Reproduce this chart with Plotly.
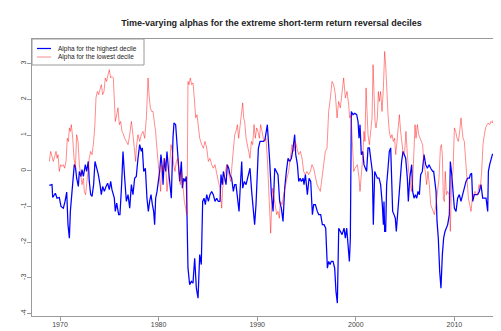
import plotly.graph_objects as go

# ---------------- data (decimal years, alpha values) ----------------
blue_dates = [
    1968.92, 1969.19, 1969.26, 1969.53, 1969.70, 1969.93, 1970.10, 1970.34, 1970.51, 1970.68,
    1970.81, 1970.95, 1971.05, 1971.22, 1971.45, 1971.56, 1971.69, 1971.86, 1971.96, 1972.13,
    1972.23, 1972.37, 1972.57, 1972.70, 1972.87, 1972.97, 1973.11, 1973.25, 1973.41, 1973.55,
    1973.72, 1973.89, 1974.06, 1974.19, 1974.33, 1974.50, 1974.67, 1974.83, 1975.00, 1975.14,
    1975.27, 1975.51, 1975.61, 1975.75, 1975.95, 1976.08, 1976.25, 1976.39, 1976.56, 1976.73,
    1976.90, 1977.07, 1977.24, 1977.40, 1977.57, 1977.74, 1977.91, 1978.08, 1978.25, 1978.35,
    1978.49, 1978.66, 1978.82, 1978.96, 1979.09, 1979.23, 1979.37, 1979.50, 1979.60, 1979.70,
    1979.84, 1979.97, 1980.11, 1980.24, 1980.38, 1980.45, 1980.58, 1980.72, 1980.85, 1980.99,
    1981.12, 1981.29, 1981.46, 1981.56, 1981.73, 1981.87, 1981.97, 1982.14, 1982.31, 1982.41,
    1982.54, 1982.68, 1982.81, 1982.88, 1982.98, 1983.15, 1983.32, 1983.49, 1983.66, 1983.83,
    1984.00, 1984.17, 1984.33, 1984.47, 1984.61, 1984.74, 1984.88, 1985.05, 1985.21, 1985.38,
    1985.55, 1985.72, 1985.89, 1986.06, 1986.23, 1986.33, 1986.47, 1986.57, 1986.74, 1986.84,
    1986.97, 1987.11, 1987.24, 1987.41, 1987.58, 1987.72, 1987.85, 1988.02, 1988.16, 1988.26,
    1988.43, 1988.53, 1988.70, 1988.87, 1989.00, 1989.14, 1989.27, 1989.44, 1989.61, 1989.74,
    1989.88, 1990.01, 1990.12, 1990.29, 1990.45, 1990.62, 1990.79, 1990.89, 1991.03, 1991.27,
    1991.44, 1991.61, 1991.78, 1991.95, 1992.11, 1992.28, 1992.45, 1992.62, 1992.79, 1992.96,
    1993.13, 1993.30, 1993.47, 1993.64, 1993.80, 1993.91, 1994.08, 1994.21, 1994.35, 1994.48,
    1994.65, 1994.75, 1994.89, 1995.09, 1995.26, 1995.43, 1995.60, 1995.73, 1995.90, 1996.10,
    1996.24, 1996.44, 1996.61, 1996.78, 1996.95, 1997.12, 1997.25, 1997.39, 1997.52, 1997.69,
    1997.86, 1997.99, 1998.13, 1998.27, 1998.40, 1998.61, 1998.81, 1998.94, 1999.08, 1999.21,
    1999.35, 1999.45, 1999.55, 1999.72, 1999.89, 2000.09, 2000.23, 2000.33, 2000.43, 2000.56,
    2000.70, 2000.83, 2001.00, 2001.10, 2001.24, 2001.38, 2001.51, 2001.68, 2001.78, 2001.92,
    2002.05, 2002.19, 2002.36, 2002.52, 2002.69, 2002.80, 2002.86, 2002.93, 2003.03, 2003.13,
    2003.27, 2003.40, 2003.54, 2003.64, 2003.74, 2003.88, 2004.01, 2004.11, 2004.21, 2004.38,
    2004.55, 2004.65, 2004.79, 2004.89, 2005.06, 2005.23, 2005.33, 2005.47, 2005.57, 2005.67,
    2005.77, 2005.91, 2006.04, 2006.18, 2006.31, 2006.45, 2006.58, 2006.75, 2006.92, 2007.09,
    2007.26, 2007.43, 2007.60, 2007.80, 2007.90, 2008.04, 2008.14, 2008.24, 2008.37, 2008.51,
    2008.64, 2008.78, 2008.91, 2009.05, 2009.19, 2009.32, 2009.49, 2009.59, 2009.73, 2009.86,
    2010.00, 2010.17, 2010.33, 2010.50, 2010.67, 2010.84, 2011.01, 2011.18, 2011.35, 2011.52,
    2011.62, 2011.75, 2011.86, 2012.02, 2012.19, 2012.36, 2012.53, 2012.70, 2012.87, 2013.04,
    2013.21, 2013.38, 2013.45, 2013.58, 2013.72, 2013.85, 2013.95,
]
blue_values = [
    -0.41, -0.39, -0.75, -0.63, -0.77, -0.75, -1.00, -1.05, -0.86, -0.60,
    -1.51, -1.89, -1.14, -0.49, 0.17, 0.12, -0.21, -0.44, -0.02, -0.16,
    0.03, -0.16, 0.17, -0.02, 0.26, -0.30, -0.67, -0.72, -0.39, 0.26,
    0.07, -0.11, -0.39, -0.67, -0.44, -0.58, -0.44, -0.35, -0.53, -0.30,
    -0.53, -0.77, -1.14, -0.91, -1.23, -1.23, -0.39, 0.54, -0.21, -0.86,
    -0.67, -1.05, -0.39, -0.67, -0.21, -0.16, 0.35, 0.73, 0.54, 0.64,
    -0.02, 0.07, -0.77, -1.14, -0.86, -0.67, -0.95, -1.14, -1.51, -0.77,
    -0.58, -0.30, -0.02, 0.45, 0.07, -0.39, 0.35, -0.02, 0.54, 0.07,
    -0.39, -0.77, 0.92, 1.34, 1.29, 0.64, 0.17, -0.30, 0.26, -0.49,
    -0.21, -0.30, -0.16, -1.14, -2.73, -3.19, -3.10, -3.15, -2.45, -3.29,
    -3.57, -2.35, -2.63, -0.86, -0.77, -0.95, -0.67, -0.86, -0.67, -0.58,
    -0.67, -0.86, -0.77, -0.86, -0.86, -0.11, -0.39, -0.02, -0.21, -0.39,
    0.17, 0.07, -0.11, -0.21, -0.58, -0.39, -0.39, -0.86, -1.14, -0.58,
    0.26, -0.49, -0.30, -0.39, -0.21, -0.02, 0.07, -0.58, -1.14, -1.51,
    -0.95, -0.21, 0.63, 0.82, 0.82, 0.82, 0.87, 1.10, 1.29, 0.26,
    -0.67, -1.14, 0.07, -0.02, -0.11, -0.86, -1.05, -1.42, -0.49, -0.02,
    0.35, 0.26, 0.35, 0.63, 1.01, 0.45, 0.17, -0.30, -0.21, -0.30,
    -0.21, -0.39, -0.11, -0.67, -0.21, -0.30, -1.23, -0.95, -0.95, -1.14,
    -1.23, -1.23, -1.51, -1.51, -1.61, -2.73, -2.54, -2.63, -2.54, -2.54,
    -2.73, -3.38, -3.71, -1.61, -1.70, -1.79, -1.61, -1.89, -1.61, -2.07,
    -2.54, -1.89, 1.66, 1.57, 1.61, 1.57, 1.38, 0.91, 1.29, 0.45,
    0.54, 0.17, 0.07, -0.02, 0.64, 0.64, 0.35, -0.02, -1.51, -0.02,
    -0.11, -0.21, -0.21, -0.39, -0.95, -1.51, -0.86, -1.70, -1.70, -0.39,
    0.07, 0.54, 0.64, -0.02, -1.14, -1.23, -1.33, -1.70, -1.33, -0.67,
    -0.11, 0.26, 0.54, 0.45, 0.35, -0.21, -0.86, -0.21, 0.07, 0.17,
    -0.58, -0.77, -0.67, -0.77, -0.58, -0.67, -0.11, -0.02, 0.45, 0.17,
    0.07, 0.17, 0.07, -0.02, -0.02, -0.30, -0.58, -1.42, -1.89, -2.82,
    -3.29, -2.35, -1.89, -1.70, -1.61, -1.51, -1.23, 0.26, -0.11, -0.58,
    -1.05, -1.14, -0.77, -0.67, -0.86, -0.67, -0.49, -0.30, -0.21, -0.21,
    -0.11, -0.07, -0.86, -0.67, -0.67, -0.67, -0.58, -0.39, -0.77, -0.77,
    -0.77, -1.14, -0.02, 0.17, 0.35, 0.45, 0.47,
]

red_dates = [
    1968.92, 1969.05, 1969.19, 1969.32, 1969.46, 1969.60, 1969.70, 1969.80, 1969.93, 1970.07,
    1970.20, 1970.34, 1970.47, 1970.61, 1970.74, 1970.85, 1970.95, 1971.05, 1971.15, 1971.29,
    1971.42, 1971.56, 1971.69, 1971.83, 1971.96, 1972.10, 1972.23, 1972.37, 1972.47, 1972.60,
    1972.70, 1972.84, 1972.97, 1973.11, 1973.25, 1973.38, 1973.52, 1973.65, 1973.79, 1973.92,
    1974.06, 1974.19, 1974.33, 1974.46, 1974.60, 1974.73, 1974.87, 1975.00, 1975.14, 1975.27,
    1975.41, 1975.54, 1975.61, 1975.75, 1975.88, 1976.02, 1976.15, 1976.29, 1976.39, 1976.56,
    1976.73, 1976.90, 1977.07, 1977.24, 1977.40, 1977.57, 1977.67, 1977.74, 1977.91, 1978.08,
    1978.25, 1978.42, 1978.59, 1978.76, 1978.93, 1979.03, 1979.16, 1979.30, 1979.43, 1979.60,
    1979.70, 1979.77, 1979.87, 1979.97, 1980.11, 1980.21, 1980.31, 1980.45, 1980.58, 1980.72,
    1980.85, 1980.99, 1981.12, 1981.26, 1981.39, 1981.53, 1981.66, 1981.80, 1981.93, 1982.07,
    1982.20, 1982.34, 1982.47, 1982.61, 1982.75, 1982.85, 1982.91, 1982.98, 1983.08, 1983.22,
    1983.35, 1983.49, 1983.62, 1983.76, 1983.90, 1984.03, 1984.17, 1984.37, 1984.54, 1984.71,
    1984.88, 1985.05, 1985.21, 1985.38, 1985.55, 1985.72, 1985.89, 1986.06, 1986.23, 1986.40,
    1986.50, 1986.63, 1986.77, 1986.91, 1987.04, 1987.18, 1987.31, 1987.45, 1987.58, 1987.72,
    1987.85, 1987.99, 1988.12, 1988.26, 1988.39, 1988.53, 1988.63, 1988.73, 1988.87, 1989.00,
    1989.14, 1989.27, 1989.41, 1989.54, 1989.68, 1989.81, 1989.95, 1990.08, 1990.22, 1990.35,
    1990.49, 1990.62, 1990.76, 1990.89, 1991.03, 1991.13, 1991.23, 1991.37, 1991.47, 1991.57,
    1991.71, 1991.84, 1991.98, 1992.11, 1992.25, 1992.35, 1992.52, 1992.69, 1992.86, 1993.02,
    1993.19, 1993.36, 1993.53, 1993.70, 1993.87, 1994.04, 1994.21, 1994.38, 1994.55, 1994.71,
    1994.88, 1995.05, 1995.22, 1995.39, 1995.56, 1995.73, 1995.90, 1996.07, 1996.24, 1996.40,
    1996.57, 1996.74, 1996.91, 1997.08, 1997.25, 1997.42, 1997.59, 1997.76, 1997.93, 1998.10,
    1998.26, 1998.43, 1998.60, 1998.77, 1998.94, 1999.11, 1999.28, 1999.38, 1999.52, 1999.65,
    1999.79, 1999.92, 2000.16, 2000.33, 2000.43, 2000.56, 2000.70, 2000.83, 2000.93, 2001.04,
    2001.14, 2001.24, 2001.38, 2001.51, 2001.65, 2001.75, 2001.85, 2001.95, 2002.05, 2002.19,
    2002.29, 2002.39, 2002.52, 2002.66, 2002.80, 2002.93, 2003.03, 2003.13, 2003.27, 2003.40,
    2003.54, 2003.67, 2003.81, 2003.94, 2004.05, 2004.15, 2004.28, 2004.42, 2004.55, 2004.69,
    2004.82, 2004.96, 2005.09, 2005.23, 2005.36, 2005.50, 2005.63, 2005.77, 2005.91, 2006.01,
    2006.11, 2006.24, 2006.38, 2006.51, 2006.65, 2006.78, 2006.92, 2007.05, 2007.19, 2007.32,
    2007.46, 2007.60, 2007.73, 2007.87, 2007.97, 2008.14, 2008.31, 2008.44, 2008.58, 2008.68,
    2008.78, 2008.88, 2008.98, 2009.08, 2009.19, 2009.32, 2009.46, 2009.59, 2009.73, 2009.86,
    2010.00, 2010.13, 2010.27, 2010.40, 2010.54, 2010.67, 2010.77, 2010.88, 2011.01, 2011.15,
    2011.28, 2011.42, 2011.55, 2011.69, 2011.82, 2011.96, 2012.09, 2012.23, 2012.36, 2012.50,
    2012.63, 2012.77, 2012.90, 2013.04, 2013.17, 2013.31, 2013.44, 2013.58, 2013.72, 2013.85,
    2013.95,
]
red_values = [
    0.26, 0.54, 0.40, 0.26, 0.40, 0.54, 0.35, 0.45, -0.02, 0.17,
    0.12, 0.17, 0.07, 0.26, 0.91, 0.82, 1.20, 1.10, 1.29, 0.91,
    0.35, 0.07, 1.01, 0.82, 0.17, -0.21, -0.39, -0.21, -0.58, -0.67,
    -0.39, -0.21, 0.35, 0.54, 0.45, 0.73, 1.20, 2.04, 2.22, 2.13,
    2.32, 2.41, 2.13, 2.22, 2.60, 2.50, 2.69, 2.83, 2.60, 2.64,
    2.60, 1.85, 1.38, 1.57, 1.76, 1.29, 1.38, 1.10, 1.05, 0.91,
    0.82, 0.73, 1.01, 1.38, 1.01, 0.63, 0.26, 0.63, 1.01, 0.82,
    1.01, 1.10, 0.91, 1.48, 2.60, 2.13, 1.76, 1.66, 1.66, 1.29,
    1.10, 0.82, 0.45, 0.07, -0.30, -0.58, 0.17, -0.02, 0.35, 0.17,
    -0.58, -0.21, 0.17, 0.73, 0.54, 0.17, -0.02, 0.26, 0.35, -0.02,
    -0.39, -0.02, -0.49, -0.86, -1.05, -1.23, -0.21, 2.50, 2.41, 2.60,
    2.41, 2.46, 2.04, 1.48, 1.57, 1.20, 0.91, 0.73, 0.63, 0.82,
    0.63, 0.26, 0.35, 0.17, 0.07, 0.17, -0.11, -0.30, -0.49, -1.05,
    -0.49, -0.21, -0.02, 0.17, -0.02, -0.21, -0.30, 0.17, 0.63, 1.01,
    1.10, 1.29, 0.91, 1.20, 1.48, 1.90, 1.48, 1.38, 0.91, 0.73,
    0.54, 0.35, 0.82, 0.73, 1.29, 0.91, 1.20, 1.10, 0.91, 1.29,
    1.10, 0.91, 0.82, 0.91, 0.35, -0.21, -0.58, -1.75, -0.95, -0.49,
    -0.77, -0.95, -1.23, -1.14, -1.33, -0.86, -0.95, -0.67, -0.39, -0.21,
    -0.02, 0.35, 0.73, 0.54, 0.82, 0.63, 0.45, 0.54, 0.35, -0.02,
    -0.11, -0.02, -0.11, -0.02, 0.17, 0.07, -0.21, -0.39, -0.49, -0.58,
    -0.21, 0.17, 0.54, 0.63, 1.66, 2.04, 2.50, 2.41, 2.13, 1.48,
    1.94, 1.76, 2.22, 2.60, 2.04, 2.22, 1.85, 1.48, 1.57, 0.63,
    -0.02, 0.07, 0.17, -0.21, -0.58, -0.11, 0.35, 1.10, 0.82, 2.32,
    1.38, 1.01, 0.73, 1.10, 1.48, 2.97, 1.85, 1.38, 1.20, 1.48,
    2.22, 1.94, 2.22, 1.66, 2.32, 3.34, 2.97, 2.22, 1.57, 1.10,
    0.91, 1.01, 0.82, 0.91, 0.45, 0.73, 1.10, 1.57, 1.10, 0.63,
    0.45, 0.54, 1.10, 0.45, -0.02, -0.21, -0.58, -0.30, 0.54, 1.29,
    0.91, 1.29, 1.01, 0.91, 0.82, 0.73, 0.17, -0.02, -0.39, -0.02,
    -0.39, -0.95, -1.05, -1.14, -1.23, -0.95, -0.39, -0.21, 0.63, 0.73,
    0.45, -0.77, -0.86, -0.02, -0.67, -0.58, -0.67, -1.70, -0.21, -0.02,
    1.20, 1.10, 0.91, 0.82, 1.10, 1.48, 1.20, 0.91, 0.82, 0.17,
    -0.21, -0.77, -0.95, -1.14, -0.77, -0.67, -0.58, -0.67, -0.67, -0.39,
    -0.49, -0.02, 0.73, 1.01, 1.20, 1.29, 1.34, 1.29, 1.38, 1.34,
    1.43,
]

series_names = ["Alpha for the highest decile", "Alpha for the lowest decile"]
x_tick_vals = [1970, 1980, 1990, 2000, 2010]
x_tick_text = ["1970", "1980", "1990", "2000", "2010"]
y_tick_vals = [-4, -3, -2, -1, 0, 1, 2, 3]
y_tick_text = ["-4", "-3", "-2", "-1", "0", "1", "2", "3"]
title_text = "Time-varying alphas for the extreme short-term return reversal deciles"

BLUE = "#0000ff"
RED = "rgba(255,0,0,0.45)"
FONT = "Liberation Sans, Arial, sans-serif"
AXIS_GREY = "#9a9a9a"

W, H = 501, 331
ML, MR, MT, MB = 24, 0, 31, 23
pw, ph = W - ML - MR, H - MT - MB

fig = go.Figure()
fig.add_trace(go.Scatter(x=blue_dates, y=blue_values, mode="lines", name=series_names[0],
                         line=dict(color=BLUE, width=1.25), showlegend=False))
fig.add_trace(go.Scatter(x=red_dates, y=red_values, mode="lines", name=series_names[1],
                         line=dict(color=RED, width=1.0), showlegend=False))

def px_x(p):
    return (p - ML) / pw

def px_y(p):
    return 1 - (p - MT) / ph

shapes = [
    dict(type="rect", xref="paper", yref="paper", x0=px_x(24), x1=px_x(136), y0=px_y(57), y1=px_y(31),
         line=dict(color=AXIS_GREY, width=1), fillcolor="white", layer="above"),
    dict(type="line", xref="paper", yref="paper", x0=px_x(29), x1=px_x(43), y0=px_y(40.5), y1=px_y(40.5),
         line=dict(color=BLUE, width=1.25)),
    dict(type="line", xref="paper", yref="paper", x0=px_x(29), x1=px_x(43), y0=px_y(49), y1=px_y(49),
         line=dict(color=RED, width=1.0)),
]
annotations = [
    dict(xref="paper", yref="paper", x=px_x(48), y=px_y(40.5), xanchor="left", yanchor="middle",
         text=series_names[0], showarrow=False, font=dict(family=FONT, size=6.5, color="#222")),
    dict(xref="paper", yref="paper", x=px_x(48), y=px_y(49), xanchor="left", yanchor="middle",
         text=series_names[1], showarrow=False, font=dict(family=FONT, size=6.5, color="#222")),
]

fig.update_layout(
    width=W, height=H,
    margin=dict(l=ML, r=MR, t=MT, b=MB, pad=0),
    paper_bgcolor="white", plot_bgcolor="white",
    title=dict(text="<b>" + title_text + "</b>", x=263.5 / W, xanchor="center",
               y=1 - 15 / H, yanchor="middle", yref="container",
               font=dict(family=FONT, size=9, color="#222")),
    shapes=shapes, annotations=annotations,
    showlegend=False,
)
fig.update_xaxes(range=[1967.16, 2015.54], tickvals=x_tick_vals, ticktext=x_tick_text,
                 ticks="outside", ticklen=4, tickcolor=AXIS_GREY, tickwidth=1,
                 ticklabelstandoff=-3,
                 showline=True, linecolor=AXIS_GREY, linewidth=1.2, mirror=True,
                 showgrid=False, zeroline=False,
                 tickfont=dict(family=FONT, size=7, color="#444"))
fig.update_yaxes(range=[-4.07, 3.69], tickvals=y_tick_vals, ticktext=y_tick_text,
                 ticks="outside", ticklen=4, tickcolor=AXIS_GREY, tickwidth=1, tickangle=-90,
                 ticklabelstandoff=-2,
                 showline=True, linecolor=AXIS_GREY, linewidth=1.2, mirror=False,
                 showgrid=False, zeroline=False,
                 tickfont=dict(family=FONT, size=7, color="#444"))

fig.write_html("out.html")
